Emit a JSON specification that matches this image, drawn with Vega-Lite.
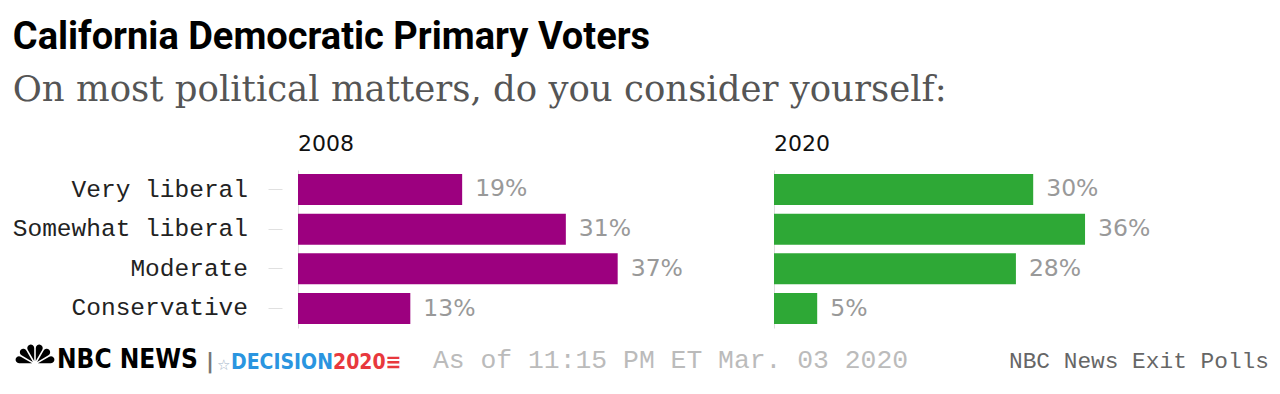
{
  "$schema": "https://vega.github.io/schema/vega-lite/v6.json",
  "background": "white",
  "padding": {"left": 12, "top": 18, "right": 4, "bottom": 4},
  "title": {
    "text": "California Democratic Primary Voters",
    "subtitle": "On most political matters, do you consider yourself:",
    "anchor": "start",
    "frame": "bounds",
    "font": "Roboto",
    "fontSize": 38,
    "fontWeight": "bold",
    "color": "#000000",
    "subtitleFont": "DejaVu Serif",
    "subtitleFontSize": 35.5,
    "subtitleColor": "#555555",
    "subtitlePadding": 16,
    "offset": 25
  },
  "config": {
    "view": {"stroke": null},
    "title": {"offset": 0, "baseline": "alphabetic"}
  },
  "datasets": {
    "exitpoll": [
      {"year": "2008", "ideology": "Very liberal", "pct": 0.19},
      {"year": "2008", "ideology": "Somewhat liberal", "pct": 0.31},
      {"year": "2008", "ideology": "Moderate", "pct": 0.37},
      {"year": "2008", "ideology": "Conservative", "pct": 0.13},
      {"year": "2020", "ideology": "Very liberal", "pct": 0.30},
      {"year": "2020", "ideology": "Somewhat liberal", "pct": 0.36},
      {"year": "2020", "ideology": "Moderate", "pct": 0.28},
      {"year": "2020", "ideology": "Conservative", "pct": 0.05}
    ]
  },
  "spacing": 16,
  "vconcat": [
    {
      "spacing": 19,
      "hconcat": [
        {
          "width": 235,
          "height": 158,
          "data": {"name": "exitpoll"},
          "transform": [{"filter": "datum.year == '2008'"}],
          "mark": {"type": "text", "align": "right", "baseline": "middle", "x": "width", "font": "Liberation Mono", "fontSize": 24.5, "color": "#222222"},
          "encoding": {
            "y": {
              "field": "ideology",
              "type": "nominal",
              "sort": ["Very liberal", "Somewhat liberal", "Moderate", "Conservative"],
              "scale": {"paddingInner": 0.22, "paddingOuter": 0.1},
              "axis": null
            },
            "text": {"field": "ideology", "type": "nominal"}
          }
        },
        {
          "data": {"name": "exitpoll"},
          "facet": {
            "column": {
              "field": "year",
              "type": "nominal",
              "title": null,
              "header": {
                "labelAnchor": "start",
                "labelAlign": "left",
                "labelFont": "DejaVu Sans",
                "labelFontSize": 22,
                "labelColor": "#111111",
                "labelPadding": 14
              }
            }
          },
          "spacing": {"column": 44},
          "spec": {
            "width": 432,
            "height": 158,
            "encoding": {
              "y": {
                "field": "ideology",
                "type": "nominal",
                "sort": ["Very liberal", "Somewhat liberal", "Moderate", "Conservative"],
                "scale": {"paddingInner": 0.22, "paddingOuter": 0.1},
                "axis": {
                  "title": null,
                  "domain": false,
                  "labels": false,
                  "offset": 16,
                  "tickSize": 14,
                  "tickColor": "#e0e0e0",
                  "tickWidth": 1
                }
              },
              "x": {
                "field": "pct",
                "type": "quantitative",
                "scale": {"domain": [0, 0.5], "nice": false},
                "axis": {
                  "title": null,
                  "values": [0],
                  "grid": true,
                  "gridColor": "#dddddd",
                  "labels": false,
                  "ticks": false,
                  "domain": false
                }
              }
            },
            "layer": [
              {
                "mark": {"type": "bar"},
                "encoding": {
                  "color": {
                    "field": "year",
                    "type": "nominal",
                    "scale": {"domain": ["2008", "2020"], "range": ["#9c007f", "#2ea836"]},
                    "legend": null
                  }
                }
              },
              {
                "mark": {"type": "text", "align": "left", "baseline": "middle", "dx": 13, "font": "DejaVu Sans", "fontSize": 23.5, "color": "#999999"},
                "encoding": {
                  "text": {"field": "pct", "type": "quantitative", "format": ".0%"}
                }
              }
            ]
          }
        }
      ]
    },
    {
      "spacing": 0,
      "hconcat": [
        {
          "width": 44,
          "height": 1,
          "data": {"values": [{"feather": "a", "v": 1}, {"feather": "b", "v": 1}, {"feather": "c", "v": 1}, {"feather": "d", "v": 1}, {"feather": "e", "v": 1}, {"feather": "f", "v": 1}]},
          "mark": {"type": "arc", "innerRadius": 3, "outerRadius": 20, "cornerRadius": 4, "padAngle": 0.08, "y": "height", "color": "#000000"},
          "encoding": {
            "theta": {"field": "v", "type": "quantitative", "scale": {"range": [-1.5708, 1.5708]}},
            "order": {"field": "feather"}
          }
        },
        {
          "width": 149, "height": 1,
          "data": {"values": []},
          "mark": "point",
          "title": {"text": "NBC NEWS", "anchor": "start", "offset": -10, "font": "Liberation Sans Narrow, DejaVu Sans Condensed", "fontSize": 26, "fontWeight": "bold", "color": "#000000"}
        },
        {
          "width": 11, "height": 1,
          "data": {"values": []},
          "mark": "point",
          "title": {"text": "|", "anchor": "start", "offset": -10, "font": "DejaVu Sans", "fontSize": 22, "color": "#777777"}
        },
        {
          "width": 14, "height": 1,
          "data": {"values": []},
          "mark": "point",
          "title": {"text": "☆", "anchor": "start", "offset": -10, "font": "DejaVu Sans", "fontSize": 15, "color": "#9fb4c8"}
        },
        {
          "width": 102, "height": 1,
          "data": {"values": []},
          "mark": "point",
          "title": {"text": "DECISION", "anchor": "start", "offset": -10, "font": "Liberation Sans Narrow, DejaVu Sans Condensed", "fontSize": 21, "fontWeight": "bold", "color": "#2a95e0"}
        },
        {
          "width": 100, "height": 1,
          "data": {"values": []},
          "mark": "point",
          "title": {"text": "2020≡", "anchor": "start", "offset": -10, "font": "Liberation Sans Narrow, DejaVu Sans Condensed", "fontSize": 21, "fontWeight": "bold", "color": "#e8383d"}
        },
        {
          "width": 576, "height": 1,
          "data": {"values": []},
          "mark": "point",
          "title": {"text": "As of 11:15 PM ET Mar. 03 2020", "anchor": "start", "offset": -10, "font": "Liberation Mono", "fontSize": 26.4, "fontWeight": "normal", "color": "#bbbbbb"}
        },
        {
          "width": 258, "height": 1,
          "data": {"values": []},
          "mark": "point",
          "title": {"text": "NBC News Exit Polls", "anchor": "start", "offset": -10, "font": "Liberation Mono", "fontSize": 22.8, "fontWeight": "normal", "color": "#666666"}
        }
      ]
    }
  ]
}
